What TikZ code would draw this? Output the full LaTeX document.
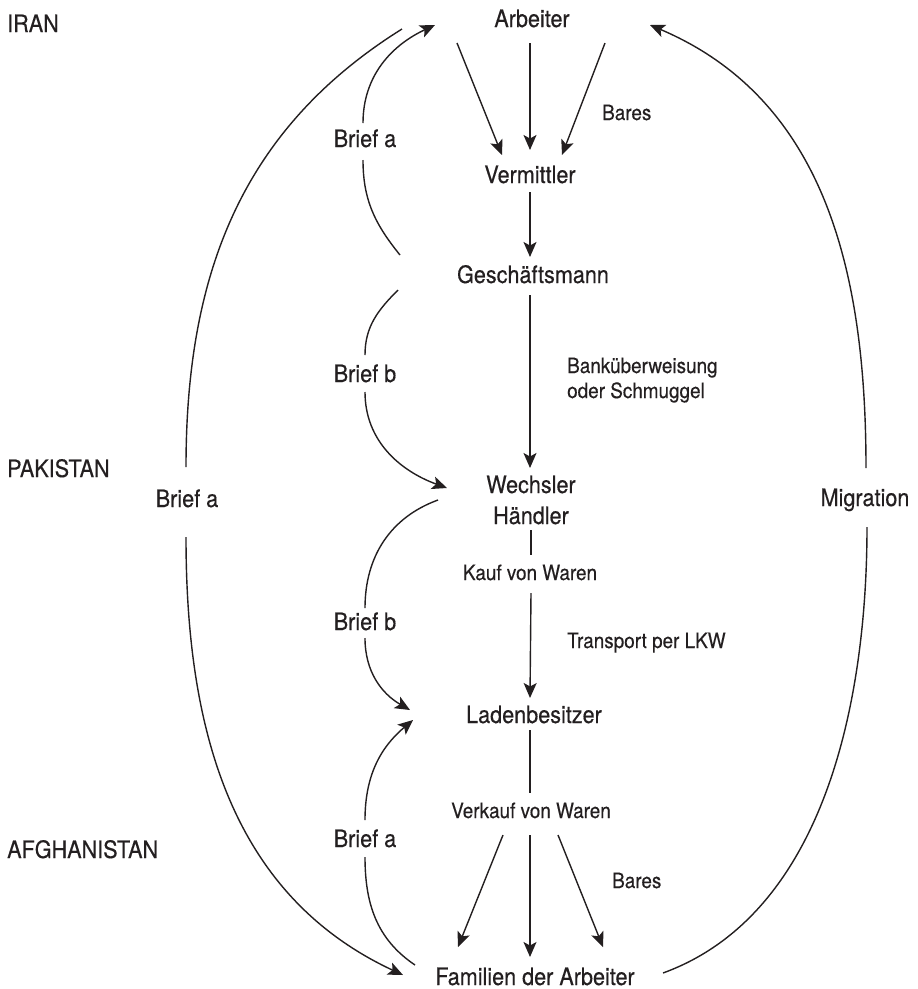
\documentclass[tikz,border=0pt]{standalone}
\usepackage{fontspec}
\setmainfont{TeX Gyre Heros}[FakeStretch=0.9,FakeBold=0.4]
\usetikzlibrary{arrows.meta,calc}
\definecolor{ink}{RGB}{35,31,32}
\begin{document}
\begin{tikzpicture}[x=1pt,y=1pt,
  big/.style={inner sep=0pt, anchor=base, font=\fontsize{24}{30}\selectfont, text=ink},
  region/.style={big, anchor=base west},
  lab/.style={inner sep=0pt, anchor=base west, font=\fontsize{21}{25}\selectfont, text=ink},
  labc/.style={lab, anchor=base},
  conn/.style={draw=ink, line width=1.4pt},
  arr/.style={conn, -{Stealth[length=15pt,width=13pt,inset=3.5pt]}}]
\useasboundingbox (0,0) rectangle (918,-989);
% region labels
\node[region] (iran) at (7,-32) {IRAN};
\node[region] (pak) at (7,-477) {PAKISTAN};
\node[region] (afg) at (7,-858) {AFGHANISTAN};
% main chain
\node[big] (arb) at (532,-27) {Arbeiter};
\node[big] (ver) at (530,-183) {Vermittler};
\node[big] (ges) at (533,-283) {Geschäftsmann};
\node[big] (wech) at (531,-493) {Wechsler};
\node[big] (haend) at (531,-524) {Händler};
\node[labc] (kauf) at (530,-580) {Kauf von Waren};
\node[big] (lad) at (534,-723) {Ladenbesitzer};
\node[labc] (verk) at (531,-818) {Verkauf von Waren};
\node[big] (fam) at (535,-985) {Familien der Arbeiter};
% side labels
\node[lab] (bares1) at (602,-120) {Bares};
\node[lab] (bank1) at (567,-373) {Banküberweisung};
\node[lab] (bank2) at (567,-398) {oder Schmuggel};
\node[lab] (lkw) at (567,-648) {Transport per LKW};
\node[lab] (bares2) at (612,-888) {Bares};
\node[big] (lA1) at (365,-147) {Brief a};
\node[big] (lB1) at (365,-382) {Brief b};
\node[big] (lB2) at (365,-630) {Brief b};
\node[big] (lA2) at (365,-847) {Brief a};
\node[big] (lA0) at (187,-507) {Brief a};
\node[big] (mig) at (865,-506) {Migration};
% Arbeiter -> Vermittler
\draw[arr] ([shift={(-75,-16)}]arb.base) -- ([shift={(-28,28)}]ver.base);
\draw[arr] ([shift={(-2,-16)}]arb.base) -- ([shift={(0,33)}]ver.base);
\draw[arr] ([shift={(73,-16)}]arb.base) -- ([shift={(32,28)}]ver.base);
% Vermittler -> Geschaeftsmann -> Wechsler
\draw[arr] ([shift={(0,-9)}]ver.base) -- ([shift={(-3,26)}]ges.base);
\draw[arr] ([shift={(-3,-12)}]ges.base) -- ([shift={(-1,25)}]wech.base);
% Haendler -> Kauf -> Ladenbesitzer
\draw[conn] ([shift={(0,-6)}]haend.base) -- ([shift={(1,25)}]kauf.base);
\draw[arr] ([shift={(1,-13)}]kauf.base) -- ([shift={(-4,25)}]lad.base);
% Ladenbesitzer -> Verkauf -> Familien
\draw[conn] ([shift={(-4,-7)}]lad.base) -- ([shift={(-1,25)}]verk.base);
\draw[arr] ([shift={(-28,-17)}]verk.base) -- ([shift={(-77,38)}]fam.base);
\draw[arr] ([shift={(-1,-17)}]verk.base) -- ([shift={(-5,28)}]fam.base);
\draw[arr] ([shift={(27,-17)}]verk.base) -- ([shift={(68,38)}]fam.base);
% outer Brief a: Arbeiter -> Familien
\draw[conn] ([shift={(-130,-2)}]arb.base) to[out=212,in=90] ([shift={(-1,40)}]lA0.base);
\draw[arr] ([shift={(-1,-30)}]lA0.base) to[out=270,in=155] ([shift={(-132,10)}]fam.base);
% inner Brief a: Geschaeftsmann -> Arbeiter
\draw[conn] ([shift={(-133,28)}]ges.base) to[out=129,in=270] ([shift={(-2,-13)}]lA1.base);
\draw[arr] ([shift={(-2,24)}]lA1.base) to[out=90,in=205] ([shift={(-97,2)}]arb.base);
% Brief b: Geschaeftsmann -> Wechsler
\draw[conn] ([shift={(-135,-7)}]ges.base) to[out=225,in=90] ([shift={(0,27)}]lB1.base);
\draw[arr] ([shift={(0,-10)}]lB1.base) to[out=270,in=160] ([shift={(-84,5)}]wech.base);
% Brief b: Wechsler -> Ladenbesitzer
\draw[conn] ([shift={(-93,-7)}]wech.base) to[out=200,in=90] ([shift={(0,22)}]lB2.base);
\draw[arr] ([shift={(0,-8)}]lB2.base) to[out=270,in=150] ([shift={(-124,13)}]lad.base);
% Brief a: Familien -> Ladenbesitzer
\draw[conn] ([shift={(-120,20)}]fam.base) to[out=146,in=270] ([shift={(0,-10)}]lA2.base);
\draw[arr] ([shift={(0,27)}]lA2.base) to[out=90,in=220] ([shift={(-121,3)}]lad.base);
% Migration: Familien -> Arbeiter
\draw[conn] ([shift={(128,12)}]fam.base) to[out=20,in=270,looseness=0.9] ([shift={(2,-21)}]mig.base);
\draw[arr] ([shift={(1,38)}]mig.base) to[out=90,in=337] ([shift={(118,2)}]arb.base);
\end{tikzpicture}
\end{document}
